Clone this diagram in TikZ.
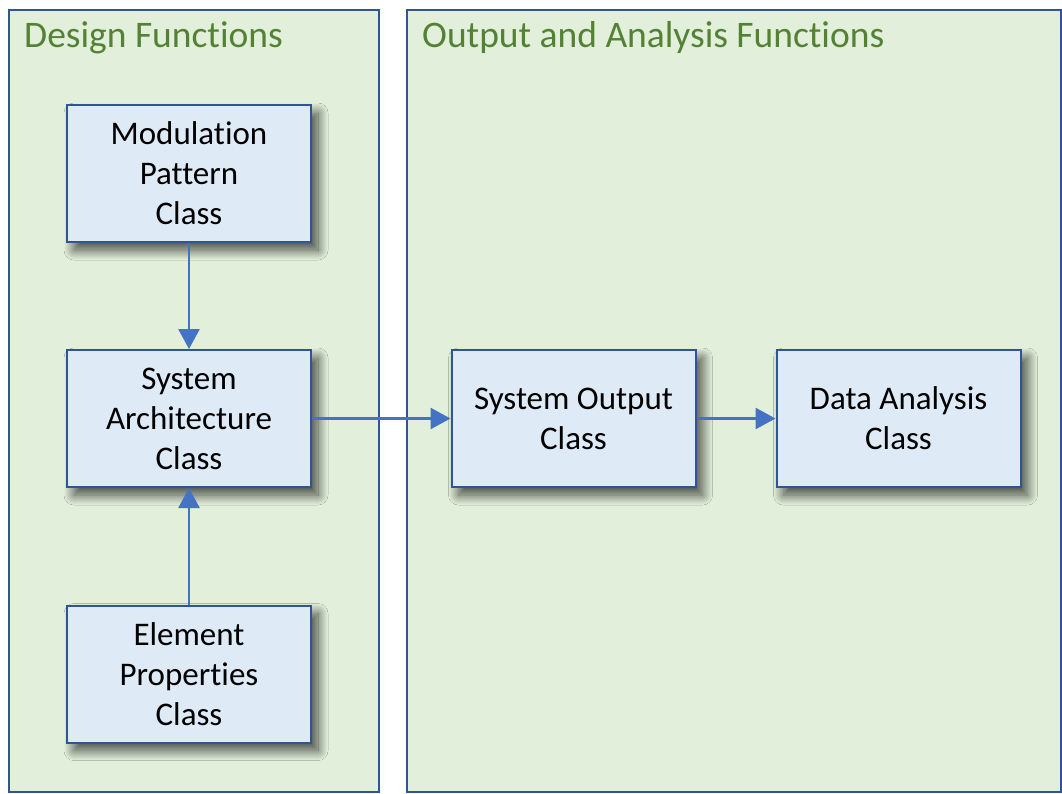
\documentclass[tikz,border=0pt]{standalone}
\usepackage{fontspec}
\setmainfont{Carlito}[RawFeature={-liga}]
\usetikzlibrary{shadows.blur,arrows.meta}
\definecolor{panelfill}{HTML}{E2EFDA}
\definecolor{boxfill}{HTML}{DEEBF7}
\definecolor{edgeblue}{HTML}{2F5597}
\definecolor{arrowblue}{HTML}{4472C4}
\definecolor{titlegreen}{HTML}{548235}
\tikzset{
  panel/.style={draw=edgeblue, fill=panelfill, line width=2pt, anchor=north west, inner sep=0pt},
  classbox/.style={draw=edgeblue, fill=boxfill, line width=2pt, minimum width=244pt, minimum height=137pt,
    align=center, inner sep=0pt, font=\fontsize{33pt}{40pt}\selectfont,
    blur shadow={shadow xshift=7pt, shadow yshift=-8pt, shadow blur radius=10pt, shadow blur steps=20, shadow opacity=70}},
  paneltitle/.style={anchor=base west, inner sep=0pt, text=titlegreen, font=\fontsize{37.5pt}{44pt}\selectfont},
  flow/.style={draw=arrowblue, line width=2.6pt, -{Triangle[length=20pt,width=21pt]}}
}
\begin{document}
\begin{tikzpicture}[x=1pt,y=-1pt]
\useasboundingbox (0,0) rectangle (1062,793);
\fill[white] (0,0) rectangle (1062,793);
\node[panel, minimum width=370pt, minimum height=782pt] (dpanel) at (8,9) {};
\node[panel, minimum width=654pt, minimum height=782pt] (opanel) at (406,9) {};
\node[paneltitle] (dtitle) at (24,47) {Design Functions};
\node[paneltitle] (otitle) at (422,47) {Output and Analysis Functions};
\node[classbox] (mod) at (189,173.5) {Modulation\\Pattern\\Class};
\node[classbox] (arch) at (189,418.5) {System\\Architecture\\Class};
\node[classbox] (elem) at (189,674) {Element\\Properties\\Class};
\node[classbox] (out) at (573.5,418.5) {System Output\\Class};
\node[classbox] (da) at (898.5,418.5) {Data Analysis\\Class};
\draw[flow] (mod) -- (arch);
\draw[flow] (elem) -- (arch);
\draw[flow] (arch) -- (out);
\draw[flow] (out) -- (da);
\end{tikzpicture}
\end{document}
